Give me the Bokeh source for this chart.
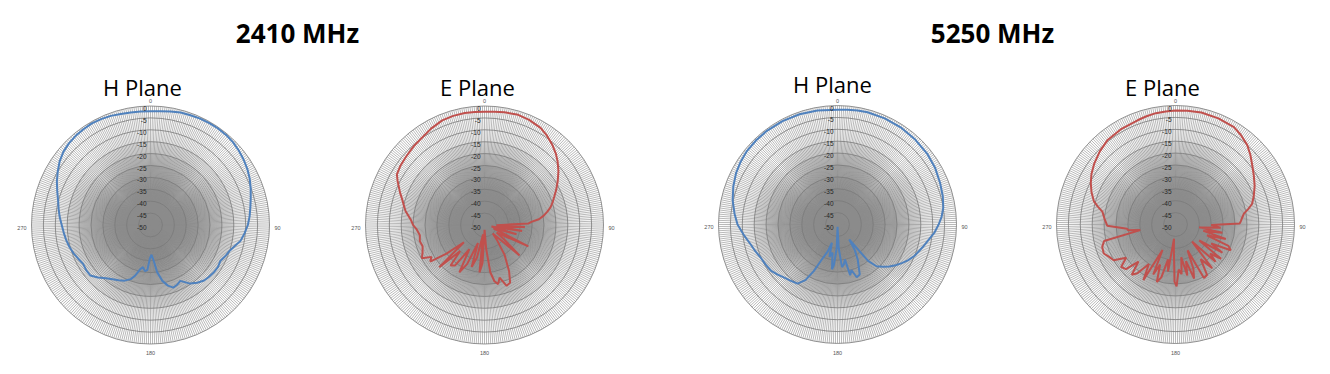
import numpy as np
from bokeh.plotting import figure
from bokeh.models import Range1d
from bokeh.core.properties import value
from bokeh.embed import file_html
from bokeh.resources import INLINE

# ---------------- data (angle in degrees clockwise from top, gain in dB) ----------------
h2410_angle = [0, 5, 10, 15, 20, 25, 30, 35, 40, 45, 50, 55, 60, 65, 70, 75, 80, 85, 90, 95, 100,
               104, 108, 112, 117, 122, 127, 132, 136, 141, 146, 149, 152, 156, 160, 164, 168, 172,
               175, 178, 181, 184, 187, 190, 193, 197, 200, 205, 210, 215, 220, 225, 230, 235, 240,
               245, 250, 255, 260, 265, 270, 275, 280, 285, 290, 295, 300, 305, 310, 315, 320, 325,
               330, 335, 340, 345, 350, 355, 360]
h2410_gain = [-2.2, -2.0, -1.6, -1.1, -0.9, -0.7, -0.6, -0.5, -0.6, -0.9, -1.5, -2.2, -3.0, -4.0,
              -5.2, -6.4, -7.4, -8.2, -9.1, -10.3, -11.6, -13.5, -15.0, -15.8, -17.0, -16.6, -16.8,
              -17.2, -17.6, -18.8, -20.3, -22.0, -23.4, -22.5, -22.0, -23.5, -26.0, -30.0, -35.0,
              -37.5, -36.0, -31.0, -30.5, -32.0, -31.0, -27.7, -25.8, -24.2, -23.2, -22.2, -20.8,
              -18.8, -17.0, -17.0, -17.3, -16.5, -15.5, -14.7, -14.0, -13.4, -12.7, -11.7, -10.8,
              -9.8, -8.3, -6.6, -5.0, -3.4, -2.2, -1.5, -1.1, -0.9, -0.7, -0.9, -1.2, -1.7, -2.0,
              -2.1, -2.2]

e2410_angle = [0, 5, 10, 17, 23, 30, 35, 40, 45, 49, 54, 59, 64, 68, 72, 75, 78, 81, 84, 86, 88, 91,
               93, 96, 99, 102, 106, 110, 116, 122, 126, 131, 136, 140, 146, 152, 156, 160, 164,
               167, 170, 173, 176, 179, 183, 186, 189, 193, 197, 200, 204, 208, 212, 216, 220, 223,
               227, 230, 233, 236, 239, 242, 246, 251, 256, 261, 266, 270, 274, 280, 284, 287, 291,
               294, 297, 300, 305, 311, 318, 325, 331, 338, 344, 350, 355, 360]
e2410_gain = [-2.4, -2.2, -1.9, -1.6, -2.0, -2.9, -4.2, -5.8, -7.6, -9.3, -11.6, -14.1, -16.5, -18.4,
              -20.0, -21.3, -23.0, -24.8, -27.0, -30.0, -31.5, -45.0, -33.0, -44.0, -34.0, -47.0,
              -36.0, -46.0, -29.5, -44.0, -40.0, -30.5, -45.0, -42.0, -35.0, -28.0, -23.5, -22.8,
              -27.0, -24.5, -26.0, -30.0, -40.0, -48.0, -34.0, -30.0, -46.0, -36.0, -31.5, -42.0,
              -32.0, -27.5, -38.0, -29.0, -27.8, -35.0, -24.0, -38.7, -30.0, -22.5, -24.0, -20.2,
              -21.5, -22.5, -22.0, -22.5, -21.5, -20.0, -19.0, -16.3, -15.0, -13.9, -12.0, -10.6,
              -9.0, -7.5, -6.8, -6.3, -5.5, -4.8, -3.7, -2.6, -2.3, -2.2, -2.3, -2.4]

h5250_angle = [0, 5, 10, 15, 24, 33, 42, 52, 60, 68, 75, 81, 86, 90, 95, 99, 105, 112, 117, 121,
               125, 129, 133, 137, 140, 142, 146, 150, 156, 160, 163, 166, 168, 171, 174, 177, 179,
               182, 185, 187, 190, 194, 197, 200, 204, 207, 210, 214, 220, 225, 230, 235, 241, 247,
               252, 257, 263, 270, 276, 283, 290, 297, 303, 309, 316, 323, 332, 341, 350, 360]
h5250_gain = [-1.8, -1.6, -1.4, -1.2, -1.2, -1.3, -1.6, -2.0, -2.6, -3.5, -4.2, -5.0, -6.2, -7.5,
              -9.2, -11.0, -13.0, -15.0, -16.8, -18.5, -20.2, -22.0, -24.0, -26.0, -30.0, -42.0,
              -37.0, -33.0, -27.0, -26.4, -30.0, -28.0, -35.0, -33.0, -32.0, -40.0, -49.0, -40.0,
              -33.0, -31.0, -38.0, -36.0, -42.0, -38.0, -34.0, -28.0, -23.0, -20.0, -19.2, -18.4,
              -17.2, -16.0, -15.4, -14.8, -13.7, -12.6, -10.6, -8.0, -6.5, -4.8, -3.4, -2.2, -1.5,
              -1.0, -0.8, -0.7, -0.8, -1.0, -1.4, -1.8]

e5250_angle = [0, 6, 13, 22, 31, 36, 42, 47, 53, 58, 64, 70, 75, 78, 81, 84, 87, 89, 91, 94, 97,
               100, 103, 106, 109, 112, 115, 118, 121, 124, 127, 130, 133, 136, 140, 144, 148, 152,
               155, 158, 161, 164, 167, 170, 173, 176, 179, 181, 184, 186, 189, 192, 195, 198, 201,
               204, 207, 210, 214, 218, 221, 225, 228, 232, 236, 240, 244, 248, 253, 257, 261, 263,
               265, 269, 275, 280, 283, 286, 291, 296, 301, 307, 314, 321, 330, 340, 345, 350, 355,
               360]
e5250_gain = [-2.1, -1.9, -1.7, -1.9, -2.3, -3.4, -5.0, -7.0, -9.5, -11.2, -13.0, -15.0, -16.7,
              -18.8, -20.9, -21.8, -22.5, -23.0, -35.0, -31.0, -40.0, -30.0, -38.0, -28.0, -36.0,
              -26.0, -24.4, -33.0, -27.0, -38.0, -26.0, -31.0, -27.0, -40.0, -26.0, -32.0, -25.0,
              -24.5, -38.0, -30.0, -26.0, -34.0, -28.0, -36.0, -29.0, -31.0, -24.0, -26.0, -40.0,
              -44.0, -30.0, -35.0, -27.0, -24.6, -32.0, -27.0, -38.0, -23.0, -30.0, -24.0, -22.0,
              -28.0, -22.0, -21.0, -25.0, -20.0, -19.0, -17.5, -17.8, -19.2, -35.0, -30.0, -29.6,
              -21.3, -20.0, -18.8, -16.5, -14.3, -12.2, -10.4, -8.8, -7.3, -5.8, -4.5, -3.9, -3.4,
              -2.9, -2.5, -2.3, -2.1]

freq_titles = ["2410 MHz", "5250 MHz"]
plane_titles = ["H Plane", "E Plane", "H Plane", "E Plane"]
ring_db = [0, -5, -10, -15, -20, -25, -30, -35, -40, -45, -50]
angle_labels = ["0", "90", "180", "270"]
r_min, r_max = -50.0, 0.0

series = [(h2410_angle, h2410_gain, "#4F81BD"),
          (e2410_angle, e2410_gain, "#C0504D"),
          (h5250_angle, h5250_gain, "#4F81BD"),
          (e5250_angle, e5250_gain, "#C0504D")]

# ---------------- layout (pixel space) ----------------
W, H = 1330, 374
centers = [(150, 224.5), (484, 224.5), (837, 224.0), (1175, 224.0)]
R = 119.0
plane_title_pos = [(142, 86), (477, 86), (832, 83), (1162, 86)]
freq_title_pos = [(297, 32), (992, 32)]

p = figure(width=W, height=H, x_range=Range1d(0, W), y_range=Range1d(H, 0),
           output_backend="svg", toolbar_location=None, min_border=0,
           x_axis_location=None, y_axis_location=None)
p.grid.visible = False
p.outline_line_color = None
p.background_fill_color = "white"
p.border_fill_color = "white"


def to_xy(cx, cy, ang_deg, gain):
    g = np.clip(np.asarray(gain, dtype=float), r_min, r_max)
    rr = (g - r_min) / (r_max - r_min) * R
    t = np.radians(np.asarray(ang_deg, dtype=float))
    return cx + rr * np.sin(t), cy - rr * np.cos(t)


def db_to_r(d):
    return (d - r_min) / (r_max - r_min) * R


spoke_t = np.radians(np.arange(360))
spoke_layers = [(R, 0.6), (db_to_r(-15), 0.3), (db_to_r(-20), 0.3), (db_to_r(-25), 0.3),
                (db_to_r(-30), 0.3), (db_to_r(-35), 0.3), (db_to_r(-40), 0.3)]
lab_font = value("Liberation Sans")
for (cx, cy), (ang, gain, col) in zip(centers, series):
    # spokes: full-length layer plus inner layers ending on rings (dense grey core)
    for r_end, lw in spoke_layers:
        p.segment(x0=[cx] * 360, y0=[cy] * 360,
                  x1=cx + r_end * np.sin(spoke_t), y1=cy - r_end * np.cos(spoke_t),
                  line_color="#8a8a8a", line_width=lw)
    # rings
    radii = [db_to_r(d) for d in ring_db]
    p.circle(x=[cx] * len(radii), y=[cy] * len(radii), radius=radii,
             fill_color=None, line_color="#7a7a7a", line_width=0.8)
    # pattern
    xs, ys = to_xy(cx, cy, ang, gain)
    p.line(xs, ys, line_color=col, line_width=2)
    # radial labels
    p.text(x=[cx - 4] * len(ring_db), y=[cy - r + 2.5 for r in radii],
           text=[str(d) for d in ring_db], text_align="right", text_baseline="middle",
           text_font=lab_font, text_font_size="6.5px", text_color="#262626")
    # angle labels
    p.text(x=[cx], y=[cy - R - 5], text=[angle_labels[0]], text_align="center",
           text_baseline="middle", text_font=lab_font, text_font_size="5.5px", text_color="#555555")
    p.text(x=[cx + R + 5], y=[cy + 2.5], text=[angle_labels[1]], text_align="left",
           text_baseline="middle", text_font=lab_font, text_font_size="5.5px", text_color="#555555")
    p.text(x=[cx], y=[cy + R + 9], text=[angle_labels[2]], text_align="center",
           text_baseline="middle", text_font=lab_font, text_font_size="5.5px", text_color="#555555")
    p.text(x=[cx - R - 5], y=[cy + 2.5], text=[angle_labels[3]], text_align="right",
           text_baseline="middle", text_font=lab_font, text_font_size="5.5px", text_color="#555555")

for (tx, ty), t in zip(plane_title_pos, plane_titles):
    p.text(x=[tx], y=[ty], text=[t], text_align="center", text_baseline="middle",
           text_font=value("Open Sans"), text_font_size="22px", text_color="#000000")

for (tx, ty), t in zip(freq_title_pos, freq_titles):
    p.text(x=[tx], y=[ty], text=[t], text_align="center", text_baseline="middle",
           text_font=value("Open Sans"), text_font_style="bold", text_font_size="26px",
           text_color="#000000")

open("out.html", "w").write(file_html(p, INLINE))
